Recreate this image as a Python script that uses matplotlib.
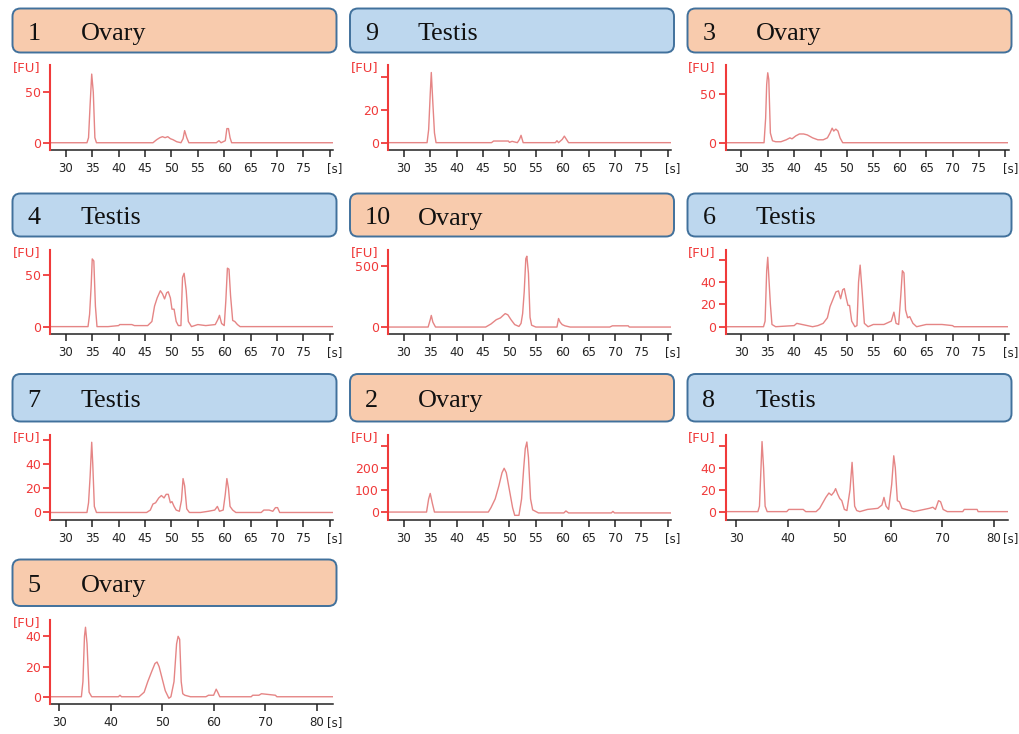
import matplotlib
matplotlib.use('Agg')
import matplotlib.pyplot as plt
from matplotlib.patches import FancyBboxPatch

# ========== data ==========
samples = ['1', '9', '3', '4', '10', '6', '7', '2', '8', '5']
tissues = ['Ovary', 'Testis', 'Ovary', 'Testis', 'Ovary', 'Testis', 'Testis', 'Ovary', 'Testis', 'Ovary']

t_1 = [27, 34.0, 34.3, 34.6, 34.9, 35.2, 35.5, 35.8, 46.5, 47.2, 47.8, 48.3, 48.8, 49.3, 49.8, 50.3, 51.0, 51.8,
       52.2, 52.5, 52.9, 53.3, 58.5, 59.0, 59.4, 60.2, 60.5, 60.8, 61.1, 61.4, 80.6]
fu_1 = [0, 0, 5, 38, 68, 50, 5, 0, 0, 3, 5, 6, 5, 6, 4, 3, 1, 0,
        4, 12, 5, 0, 0, 2, 0, 2, 14, 14, 5, 0, 0]

t_9 = [27, 34.4, 34.7, 35.0, 35.2, 35.5, 35.8, 36.1, 46.6, 47.0, 49.8, 50.0, 50.5, 51.5, 51.9, 52.2, 52.6,
       58.7, 59.0, 59.3, 60.0, 60.4, 60.8, 61.2, 80.6]
fu_9 = [0, 0, 8, 30, 43, 24, 6, 0, 0, 1, 1, 0.2, 0.8, 0, 2, 4.5, 0,
        0, 1.2, 0, 2, 4, 2, 0, 0]

t_3 = [27, 34.3, 34.6, 34.8, 35.0, 35.2, 35.5, 35.9, 36.5, 37.5, 38.5, 39.2, 39.6, 40.3, 41.0, 41.8, 42.5, 43.5,
       44.5, 45.5, 46.3, 46.8, 47.2, 47.5, 47.9, 48.3, 48.7, 49.2, 80.6]
fu_3 = [0, 0, 25, 60, 72, 65, 10, 2, 1, 1, 3, 5, 4, 7, 9, 9, 8, 5,
        3, 3, 5, 10, 15, 12, 14, 12, 5, 0, 0]

t_4 = [27, 34.2, 34.5, 34.8, 35.0, 35.3, 35.6, 35.9, 38.0, 40.0, 40.2, 42.5, 43, 45.5, 46.3, 46.8, 47.3, 47.9,
       48.3, 48.7, 49.1, 49.4, 49.8, 50.1, 50.5, 50.9, 51.3, 51.8, 52.1, 52.4, 52.8, 53.2, 53.8, 55.0, 56.5,
       58.3, 58.8, 59.1, 59.5, 60.0, 60.3, 60.6, 60.9, 61.2, 61.6, 62.0, 62.5, 63.0, 80.6]
fu_4 = [0, 0, 12, 40, 66, 64, 20, 0, 0, 1, 2, 2, 1, 1, 5, 20, 28, 35,
        32, 27, 33, 34, 28, 17, 17, 5, 1, 1, 48, 52, 35, 5, 0, 2, 1,
        2, 7, 11, 3, 1, 25, 57, 56, 30, 6, 5, 2, 0, 0]

t_10 = [27, 34.6, 35.0, 35.2, 35.5, 36.0, 45.5, 46.5, 47.5, 48.3, 48.8, 49.2, 49.7, 50.3, 51.0, 51.8, 52.2,
        52.5, 52.8, 53.1, 53.3, 53.6, 53.9, 54.2, 55.0, 59.0, 59.3, 59.6, 60.0, 60.5, 61.0, 61.5, 69.0, 69.5,
        72.5, 72.7, 80.6]
fu_10 = [0, 0, 60, 95, 40, 0, 0, 25, 60, 75, 95, 110, 100, 60, 20, 5, 30,
         110, 290, 560, 580, 440, 80, 15, 0, 0, 70, 40, 20, 10, 5, 0, 0, 10,
         10, 0, 0]

t_6 = [27, 34.2, 34.5, 34.8, 35.0, 35.2, 35.5, 35.8, 36.5, 40.0, 40.5, 41.5, 43.5, 44.5, 45.5, 46.3, 46.8,
       47.4, 47.9, 48.4, 48.8, 49.2, 49.5, 49.9, 50.2, 50.5, 50.9, 51.5, 51.9, 52.2, 52.5, 52.9, 53.3, 54, 55,
       57, 58.4, 58.9, 59.3, 59.8, 60.2, 60.5, 60.8, 61.1, 61.5, 61.9, 62.5, 63.2, 65, 68, 70, 70.3, 80.6]
fu_6 = [0, 0, 5, 50, 62, 45, 20, 2, 0, 1, 3, 2, 0, 1, 3, 8, 18,
        25, 31, 32, 25, 33, 34, 25, 19, 19, 5, 0, 1, 40, 55, 30, 3, 0, 2,
        2, 5, 13, 3, 2, 28, 50, 48, 15, 8, 9, 3, 0, 2, 2, 1, 0, 0]

t_7 = [27, 34.0, 34.3, 34.6, 34.9, 35.1, 35.4, 35.8, 45.3, 46.0, 46.5, 47.0, 47.6, 48.1, 48.6, 49.0, 49.4,
       49.8, 50.1, 50.5, 50.9, 51.5, 51.9, 52.2, 52.5, 52.9, 53.4, 55.5, 57, 58.2, 58.7, 59.1, 59.8, 60.2,
       60.5, 60.8, 61.1, 61.6, 62.2, 67.0, 67.5, 68.5, 69.2, 69.7, 70.1, 70.5, 80.6]
fu_7 = [0, 0, 8, 30, 58, 40, 5, 0, 0, 2, 7, 8, 12, 14, 12, 15, 15,
        8, 9, 5, 2, 1, 10, 28, 22, 3, 0, 0, 1, 2, 5, 1, 2, 15,
        28, 20, 5, 2, 0, 0, 2, 2, 1, 4, 4, 0, 0]

t_2 = [27, 34.3, 34.7, 35.0, 35.4, 35.8, 46.0, 46.5, 47.3, 48.0, 48.6, 49.0, 49.4, 50.0, 50.6, 51.0, 51.8,
       52.3, 52.7, 53.0, 53.3, 53.6, 54.0, 54.4, 55.5, 60.3, 60.7, 61.2, 69.3, 69.6, 69.9, 80.6]
fu_2 = [0, 0, 60, 85, 40, 0, 0, 20, 60, 120, 180, 200, 180, 100, 20, -15, -15,
        60, 200, 290, 320, 250, 60, 10, -4, -4, 5, -4, -4, 3, -4, -4]

t_8 = [27.9, 34.2, 34.5, 34.8, 35.0, 35.3, 35.6, 36.0, 39.8, 40.2, 43.0, 43.5, 45.5, 46.2, 46.8, 47.4, 48.0,
       48.5, 49.0, 49.3, 49.7, 50.1, 50.5, 51.0, 51.5, 52.1, 52.5, 52.7, 53.0, 53.4, 54.0, 55.5, 57.5, 58.3,
       58.7, 59.1, 59.6, 60.2, 60.6, 60.9, 61.3, 61.7, 62.2, 63, 64.5, 67.5, 68.2, 68.7, 69.3, 69.7, 70.2, 71,
       74, 74.3, 76.8, 77, 82.9]
fu_8 = [0, 0, 5, 40, 64, 40, 5, 0, 0, 2, 2, 0, 0, 3, 8, 13, 17,
        15, 18, 21, 16, 12, 10, 2, 1, 20, 45, 30, 5, 1, 0, 2, 3, 6,
        13, 5, 2, 25, 51, 40, 10, 9, 3, 2, 0, 3, 4, 2, 10, 9, 2, 0,
        0, 2, 2, 0, 0]

t_5 = [28.2, 34.3, 34.6, 34.9, 35.1, 35.4, 35.8, 36.3, 41.5, 41.8, 42.1, 45.5, 46.5, 47.2, 48.0, 48.6, 49.0,
       49.4, 50.0, 50.6, 51.3, 51.7, 52.3, 52.8, 53.1, 53.4, 53.7, 54.0, 54.4, 55.5, 58.5, 59, 60.0, 60.5,
       60.8, 61.2, 61.7, 67.3, 67.6, 68.8, 69.3, 72.0, 72.3, 83.2]
fu_5 = [0, 0, 10, 40, 46, 35, 3, 0, 0, 1, 0, 0, 3, 10, 17, 22, 23,
        20, 12, 4, -1, 0, 10, 35, 40, 38, 10, 2, 1, 0, 0, 1, 1, 5,
        3, 0, 0, 0, 1, 1, 2, 1, 0, 0]

traces = [(t_1, fu_1), (t_9, fu_9), (t_3, fu_3), (t_4, fu_4), (t_10, fu_10),
          (t_6, fu_6), (t_7, fu_7), (t_2, fu_2), (t_8, fu_8), (t_5, fu_5)]

y_limits = [(-7.2, 77), (-4.5, 47.6), (-7.5, 80), (-7.2, 74.7), (-57, 631),
            (-6.5, 68.5), (-5.8, 64), (-34, 352), (-7.2, 70), (-4.8, 50.8)]
y_ticks = [[0, 50], [0, 20, 40], [0, 50], [0, 50], [0, 500],
           [0, 20, 40, 60], [0, 20, 40, 60], [0, 100, 200, 300], [0, 20, 40, 60], [0, 20, 40]]
y_top_hidden = [False, True, False, False, False, True, True, True, True, False]

# ========== layout (pixels) ==========
W, H = 1020, 734
fig = plt.figure(figsize=(W / 100, H / 100), dpi=100, facecolor='white')

bg = fig.add_axes([0, 0, 1, 1])
bg.set_xlim(0, W)
bg.set_ylim(H, 0)
bg.axis('off')

col_left = [12.5, 350, 687.5]
row_box = [(8.5, 52.5), (193.5, 236.5), (374, 421.5), (559.5, 606)]
row_axes = [(65, 150), (250, 334), (435, 519.5), (620, 704)]
ax_left = [50, 388, 725.5]
ax_w = 283

orange = '#F8CBAD'
blue = '#BDD7EE'
trace_color = '#E58585'
red = '#F03A3A'

for i in range(len(samples)):
    r, c = divmod(i, 3)
    top, bot = row_box[r]
    x0 = col_left[c]
    face = orange if tissues[i] == 'Ovary' else blue
    box = FancyBboxPatch((x0, top), 324, bot - top,
                         boxstyle='round,pad=0,rounding_size=8',
                         facecolor=face, edgecolor='#41719C', linewidth=1.4)
    bg.add_patch(box)
    ybase = (top + bot) / 2 + 9.5
    bg.text(x0 + 15, ybase, samples[i], fontsize=18.8, family='Liberation Serif',
            va='baseline', ha='left', color='#111111')
    bg.text(x0 + 68, ybase, tissues[i], fontsize=18.8, family='Liberation Serif',
            va='baseline', ha='left', color='#111111')

    # electropherogram axes
    atop, abot = row_axes[r]
    ax = fig.add_axes([ax_left[c] / W, 1 - abot / H, ax_w / W, (abot - atop) / H])
    t, fu = traces[i]
    ax.plot(t, fu, color=trace_color, lw=1.0)
    ax.set_xlim(t[0], t[-1])
    ax.set_ylim(*y_limits[i])

    wide = t[-1] > 82
    if wide:
        xt = [30, 40, 50, 60, 70, 80]
        xl = [str(v) for v in xt]
    else:
        xt = list(range(30, 85, 5))
        xl = [str(v) for v in xt[:-1]] + ['']
    ax.set_xticks(xt)
    ax.set_xticklabels(xl)

    yt = y_ticks[i]
    yl = [str(v) for v in yt]
    if y_top_hidden[i]:
        yl[-1] = ''
    ax.set_yticks(yt)
    ax.set_yticklabels(yl)

    for s in ['top', 'right']:
        ax.spines[s].set_visible(False)
    ax.spines['left'].set_color(red)
    ax.spines['left'].set_linewidth(1.5)
    ax.spines['left'].set_zorder(5)
    ax.spines['bottom'].set_color('#222222')
    ax.spines['bottom'].set_linewidth(1.1)
    ax.tick_params(axis='x', direction='out', length=5, width=1.1, pad=4,
                   labelsize=8.5, colors='#222222')
    ax.tick_params(axis='y', direction='out', length=5, width=1.3, pad=1.5,
                   labelsize=9, colors=red)
    ax.set_facecolor('none')

    ax.annotate('[FU]', xy=(0, 1), xycoords='axes fraction', xytext=(-7, -2),
                textcoords='offset points', ha='right', va='center',
                fontsize=9.5, color=red)
    ax.annotate('[s]', xy=(1, 0), xycoords='axes fraction', xytext=(1.5, -9),
                textcoords='offset points', ha='center', va='top',
                fontsize=8.5, color='#222222')

fig.savefig('out.png', dpi=100, facecolor='white')
